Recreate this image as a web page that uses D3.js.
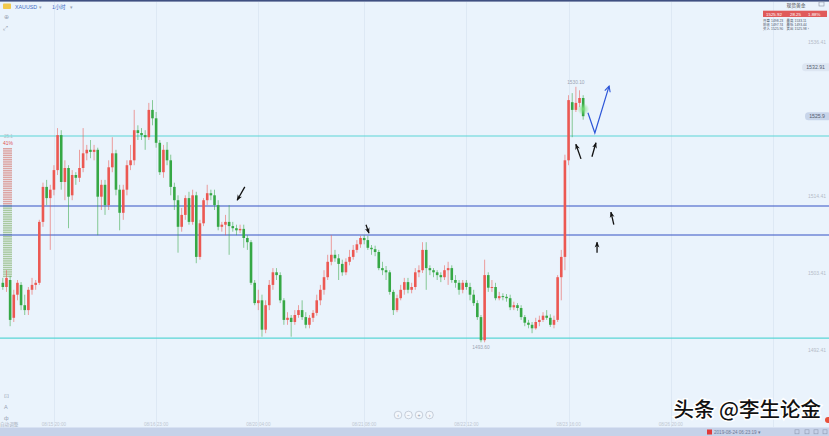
<!DOCTYPE html>
<html><head><meta charset="utf-8">
<script src="https://cdn.jsdelivr.net/npm/d3@7"></script>
<style>
html,body{margin:0;padding:0;background:#eaf3fc;overflow:hidden}
svg{display:block}
text{font-family:"Liberation Sans",Arial,sans-serif}
.cjk{font-family:"Noto Sans CJK SC",sans-serif}
</style></head><body>
<svg id="c" width="829" height="436"></svg>
<script>
// ---- data (XAUUSD, 1 hour) ----
const open  = [1502.1,1501.5,1502.5,1497.1,1500.4,1501.8,1498.9,1498.2,1501.1,1501.8,
1502.1,1510.8,1515.8,1514.2,1515.4,1518.2,1523.2,1516.5,1518.5,1514.6,
1517.5,1517.1,1518.5,1520.6,1521.1,1520.8,1521.1,1514.4,1516.1,1513.2,
1518.6,1520.6,1515.4,1512.1,1515.4,1518.9,1519.6,1523.9,1523.5,1523.2,
1522.9,1526.8,1525.6,1522.1,1517.9,1521.1,1519.6,1515.8,1513.9,1510.1,
1511.8,1514.2,1510.8,1514.6,1505.8,1510.6,1513.9,1514.9,1514.6,1513.2,
1510.1,1510.4,1510.8,1510.2,1509.9,1509.6,1509.8,1508.5,1507.9,1502.1,
1499.2,1499.6,1495.4,1498.9,1501.8,1503.6,1503.2,1499.6,1496.8,1497.1,
1496.5,1497.5,1498.2,1497.2,1496.1,1497.1,1497.8,1499.6,1501.1,1502.9,
1505.1,1506.1,1505.6,1504.8,1503.6,1505.1,1505.8,1506.8,1507.6,1508.5,
1508.2,1507.1,1506.9,1506.5,1504.2,1503.9,1503.6,1500.8,1498.2,1499.9,
1501.1,1502.2,1501.1,1501.5,1503.6,1503.9,1506.8,1504.2,1503.9,1503.6,
1503.2,1502.9,1503.9,1504.2,1502.5,1502.1,1501.1,1502.1,1501.5,1500.4,
1499.2,1497.2,1493.9,1503.2,1501.4,1501.5,1499.9,1500.2,1500.1,1499.9,
1498.6,1498.9,1498.5,1497.2,1496.4,1496.1,1495.6,1496.5,1496.8,1497.4,
1497.1,1496.1,1496.8,1502.9,1505.8,1519.6,1527.9,1526.8,1527.8,1528.5];
const high  = [1502.8,1503.9,1503.1,1501.1,1502.5,1502.2,1500.4,1501.5,1502.8,1502.5,
1511.1,1516.4,1516.8,1516.1,1518.9,1524.2,1523.9,1519.6,1518.9,1518.2,
1517.9,1521.1,1524.2,1521.8,1522.5,1521.8,1521.4,1516.8,1516.8,1519.6,
1522.9,1521.1,1516.1,1516.1,1519.6,1521.8,1526.8,1524.6,1524.2,1523.9,
1527.8,1528.2,1526.5,1522.5,1521.8,1522.2,1520.4,1516.4,1514.6,1512.8,
1514.6,1515.1,1515.4,1515.1,1511.1,1514.2,1516.1,1515.4,1515.4,1513.9,
1510.8,1511.8,1513.2,1510.8,1510.4,1510.4,1510.4,1508.9,1508.2,1502.5,
1501.1,1500.4,1499.6,1502.5,1504.2,1504.2,1503.6,1499.9,1497.9,1497.5,
1498.2,1498.9,1499.6,1497.9,1497.5,1498.2,1500.4,1501.8,1503.9,1506.1,
1508.9,1506.8,1506.2,1505.4,1505.6,1506.8,1507.5,1508.2,1508.8,1508.9,
1508.8,1507.5,1507.4,1506.8,1505.1,1504.5,1503.9,1501.1,1500.4,1501.8,
1502.8,1502.8,1502.1,1504.2,1504.6,1507.9,1507.9,1504.6,1504.2,1503.9,
1503.6,1504.6,1505.1,1504.6,1503.2,1502.5,1502.5,1502.5,1502.1,1501.1,
1499.6,1497.5,1505.4,1503.6,1502.5,1502.1,1500.8,1500.6,1500.5,1500.4,
1499.4,1499.2,1498.9,1497.5,1496.8,1496.5,1497.1,1497.4,1497.9,1498.2,
1497.6,1497.4,1503.2,1506.8,1520.4,1528.9,1529.2,1530.1,1529.6,1528.9];
const low   = [1501.1,1500.8,1495.9,1496.5,1499.6,1498.2,1497.5,1497.5,1500.4,1501.1,
1501.8,1510.1,1513.2,1506.8,1514.6,1517.5,1515.4,1513.9,1509.9,1513.9,
1516.1,1516.5,1517.9,1519.6,1519.9,1519.6,1508.9,1512.5,1511.8,1512.5,
1517.9,1514.6,1509.6,1511.1,1514.6,1518.2,1518.9,1522.5,1522.5,1521.1,
1522.5,1524.6,1521.4,1517.5,1517.1,1518.9,1514.6,1512.5,1506.4,1509.4,
1511.1,1510.4,1510.4,1504.9,1505.4,1510.2,1513.2,1513.9,1512.5,1509.6,
1509.4,1508.9,1506.1,1509.4,1508.9,1509.2,1507.1,1506.8,1501.8,1498.9,
1498.2,1494.4,1494.9,1498.2,1501.1,1502.5,1499.2,1496.1,1496.1,1494.4,
1496.1,1497.1,1496.8,1495.6,1495.6,1496.5,1497.4,1498.9,1500.4,1502.5,
1504.6,1505.1,1502.5,1503.1,1503.2,1504.6,1505.4,1506.4,1507.1,1507.6,
1506.8,1506.1,1505.9,1503.9,1503.2,1502.5,1500.4,1497.5,1497.9,1499.6,
1500.4,1500.6,1500.6,1501.1,1502.9,1503.5,1501.1,1503.2,1502.9,1502.5,
1502.2,1502.5,1501.8,1502.1,1501.4,1500.4,1500.6,1501.1,1499.6,1498.8,
1496.8,1493.6,1493.6,1500.8,1500.8,1499.6,1499.6,1499.6,1499.4,1498.2,
1498.2,1498.1,1496.8,1495.9,1495.6,1494.9,1495.4,1495.9,1496.5,1496.8,
1495.8,1495.6,1496.5,1499.6,1503.9,1518.9,1522.9,1526.5,1527.2,1525.4];
const close = [1501.5,1502.8,1496.8,1500.4,1502.1,1498.9,1498.2,1501.1,1501.8,1502.1,
1510.8,1515.8,1514.2,1515.4,1518.2,1523.2,1516.5,1518.5,1514.4,1517.5,
1517.1,1518.5,1520.6,1521.1,1520.8,1521.1,1514.4,1516.1,1513.2,1518.6,
1520.6,1515.4,1512.1,1515.4,1518.9,1519.6,1523.9,1523.5,1523.2,1522.9,
1526.8,1525.6,1522.1,1517.9,1521.1,1519.6,1515.8,1513.9,1510.1,1511.8,
1514.2,1510.8,1514.6,1505.8,1510.6,1513.9,1514.9,1514.6,1513.2,1510.1,
1510.4,1510.8,1510.2,1509.9,1509.6,1509.8,1508.5,1507.9,1502.1,1499.2,
1499.6,1495.4,1498.9,1501.8,1503.6,1503.2,1499.6,1496.8,1497.1,1496.5,
1497.5,1498.2,1497.2,1496.1,1497.1,1497.8,1499.6,1501.1,1502.9,1505.1,
1506.1,1505.6,1504.8,1503.6,1505.1,1505.8,1506.8,1507.6,1508.5,1508.2,
1507.1,1506.9,1506.5,1504.2,1503.9,1503.6,1500.8,1498.2,1499.9,1501.1,
1502.2,1501.1,1501.5,1503.6,1503.9,1506.8,1504.2,1503.9,1503.6,1503.2,
1502.9,1503.9,1504.2,1502.5,1502.1,1501.1,1502.1,1501.5,1500.4,1499.2,
1497.2,1493.9,1503.2,1501.4,1501.5,1499.9,1500.2,1500.1,1499.9,1498.6,
1498.9,1498.5,1497.2,1496.4,1496.1,1495.6,1496.5,1496.8,1497.4,1497.1,
1496.1,1496.8,1502.9,1505.8,1519.6,1528.2,1526.8,1527.8,1528.5,1525.9];

const timeTickIdx = [14,42,70,99,127,155,183];
const timeLabels = ["08/15 20:00","08/16 23:00","08/20 04:00","08/21 08:00","08/22 12:00","08/23 16:00","08/26 20:00"];
const priceTicks = [1536.41,1514.41,1503.41,1492.41];
const cyanLevels = [1523.07,1494.21];
const blueLevels = [1513.07,1508.93];
const lastPrice = 1525.9;
const markPrice = 1532.91;
// annotations: [fromIdx, fromPrice, toIdx, toPrice]
const blackArrows = [[66.3,1515.8,64.2,1513.9],[99.5,1510.4,100.3,1509.2],[158.4,1519.8,157.0,1521.9],
  [161.4,1520.1,162.5,1522.1],[167.4,1510.4,166.6,1512.2],[162.8,1506.4,162.8,1507.9]];
const bluePath = [[160.3,1526.4],[162.2,1523.5],[166.1,1530.2]];
const quoteRows = [["开盘","1498.23","最高","1533.11"],["前收","1497.74","最低","1493.44"],["买入","1525.90","卖出","1525.98 ›"]];

// ---- drawing ----
const W=829,H=436;
const svg=d3.select("#c");
const x=d3.scaleLinear().domain([-0.5,159.5]).range([1,585]);
const y=d3.scaleLinear().domain([1480,1542.5]).range([437.5,0]);
const UP="#ec5852", DN="#36a845";

svg.append("rect").attr("width",W).attr("height",H).attr("fill","#eaf3fc");
svg.append("rect").attr("width",W).attr("height",1.6).attr("fill","#3e4f80");

// faint vertical grid
svg.append("g").selectAll("line").data(timeTickIdx.concat([211])).join("line")
  .attr("x1",d=>Math.round(x(d))+0.5).attr("x2",d=>Math.round(x(d))+0.5)
  .attr("y1",2).attr("y2",427).attr("stroke","#dde8f4").attr("stroke-width",1);

// volume profile (left)
const vp=svg.append("g");
for(let yy=148; yy<277; yy+=2.2){
  vp.append("rect").attr("x",3).attr("y",yy).attr("width",9).attr("height",1.5)
    .attr("fill", yy<204 ? "#dca4a2" : "#a9c9a0");
}
svg.append("text").attr("x",4).attr("y",138).attr("font-size",4.5).attr("fill","#b7bcc6").text("25.1");
svg.append("text").attr("x",3).attr("y",144.5).attr("font-size",5).attr("fill","#e05555").text("41%");

// level lines
svg.append("g").selectAll("line").data(cyanLevels).join("line")
  .attr("x1",0).attr("x2",W).attr("y1",d=>y(d)).attr("y2",d=>y(d))
  .attr("stroke","#5ad6d6").attr("stroke-width",1.2);
svg.append("g").selectAll("line").data(blueLevels).join("line")
  .attr("x1",0).attr("x2",W).attr("y1",d=>y(d)).attr("y2",d=>y(d))
  .attr("stroke","#3552c4").attr("stroke-width",1.2);

// candles
const data=d3.range(open.length).map(i=>({i,o:open[i],h:high[i],l:low[i],c:close[i]}));
const cg=svg.append("g");
cg.selectAll("line").data(data).join("line")
  .attr("x1",d=>x(d.i)).attr("x2",d=>x(d.i))
  .attr("y1",d=>y(d.h)).attr("y2",d=>y(d.l))
  .attr("stroke",d=>d.c>=d.o?UP:DN).attr("stroke-width",0.8).attr("opacity",0.7);
cg.selectAll("rect").data(data).join("rect")
  .attr("x",d=>x(d.i)-1.3).attr("width",2.6)
  .attr("y",d=>y(Math.max(d.o,d.c)))
  .attr("height",d=>Math.max(1,Math.abs(y(d.o)-y(d.c))))
  .attr("fill",d=>d.c>=d.o?UP:DN);

// glow on last candle
const defs=svg.append("defs");
const rg=defs.append("radialGradient").attr("id","glow");
rg.append("stop").attr("offset","0%").attr("stop-color","#7be07b").attr("stop-opacity",0.9);
rg.append("stop").attr("offset","100%").attr("stop-color","#7be07b").attr("stop-opacity",0);
const last=data[data.length-1];
svg.append("circle").attr("cx",x(last.i)).attr("cy",y((last.o+last.c)/2)+2).attr("r",6).attr("fill","url(#glow)");

// high / low labels
const hi=data.reduce((a,b)=>b.h>a.h?b:a), lo=data.reduce((a,b)=>b.l<a.l?b:a);
svg.append("text").attr("x",x(hi.i)).attr("y",y(hi.h)-3).attr("text-anchor","middle")
  .attr("font-size",4.8).attr("fill","#9aa3b2").text(hi.h.toFixed(2));
svg.append("text").attr("x",x(lo.i)).attr("y",y(lo.l)+7).attr("text-anchor","middle")
  .attr("font-size",4.8).attr("fill","#9aa3b2").text(lo.l.toFixed(2));

// arrows
defs.append("marker").attr("id","ah").attr("viewBox","0 0 10 10").attr("refX",9).attr("refY",5)
  .attr("markerWidth",6).attr("markerHeight",6).attr("markerUnits","userSpaceOnUse").attr("orient","auto")
  .append("path").attr("d","M0,1 L10,5 L0,9 L3,5 Z").attr("fill","#111");
defs.append("marker").attr("id","bh").attr("viewBox","0 0 10 10").attr("refX",9).attr("refY",5)
  .attr("markerWidth",7).attr("markerHeight",7).attr("markerUnits","userSpaceOnUse").attr("orient","auto")
  .append("path").attr("d","M1,1 L9,5 L1,9").attr("fill","none").attr("stroke","#2d56d8").attr("stroke-width",1.6);
svg.append("g").selectAll("line").data(blackArrows).join("line")
  .attr("x1",d=>x(d[0])).attr("y1",d=>y(d[1])).attr("x2",d=>x(d[2])).attr("y2",d=>y(d[3]))
  .attr("stroke","#111").attr("stroke-width",1.3).attr("marker-end","url(#ah)");
svg.append("path").attr("d",d3.line().x(d=>x(d[0])).y(d=>y(d[1]))(bluePath))
  .attr("fill","none").attr("stroke","#2d56d8").attr("stroke-width",1.2).attr("marker-end","url(#bh)");

// right price labels
svg.append("g").selectAll("text").data(priceTicks).join("text")
  .attr("x",826).attr("y",d=>y(d)+1.8).attr("text-anchor","end").attr("font-size",5)
  .attr("fill","#b5bcc8").text(d=>d.toFixed(2));
function priceBox(p,fill,label,w){
  svg.append("rect").attr("x",828-w).attr("y",y(p)-4).attr("width",w+3).attr("height",8).attr("rx",3.5).attr("fill",fill);
  svg.append("text").attr("x",825).attr("y",y(p)+1.9).attr("text-anchor","end").attr("font-size",5.2)
    .attr("fill","#556070").text(label);
}
priceBox(markPrice,"#dde6f2",markPrice.toFixed(2),26);
priceBox(lastPrice,"#c8d5ea",String(lastPrice),23);

// top-right quote panel
const tp=svg.append("g");
tp.append("text").attr("class","cjk").attr("x",796).attr("y",7).attr("text-anchor","middle").attr("font-size",4.8).attr("fill","#444").text("现货黄金");
tp.append("rect").attr("x",819).attr("y",2).attr("width",5).attr("height",4).attr("fill","none").attr("stroke","#8a93a3").attr("stroke-width",0.6);
tp.append("rect").attr("x",763).attr("y",10.7).attr("width",64).attr("height",6.3).attr("fill","#e05a5a");
[["1525.92",766],["28.25",790],["1.88%",808]].forEach(t=>tp.append("text").attr("x",t[1]).attr("y",15.6).attr("font-size",4.4).attr("fill","#fff").text(t[0]));
quoteRows.forEach((r,k)=>{
  const yy=21.6+k*4.3;
  const fs=3.4;
  tp.append("text").attr("class","cjk").attr("x",763).attr("y",yy).attr("font-size",fs).attr("fill","#4a5366").text(r[0]);
  tp.append("text").attr("x",771).attr("y",yy).attr("font-size",fs).attr("fill","#4a5366").text(r[1]);
  tp.append("text").attr("class","cjk").attr("x",786.5).attr("y",yy).attr("font-size",fs).attr("fill","#4a5366").text(r[2]);
  tp.append("text").attr("x",794.5).attr("y",yy).attr("font-size",fs).attr("fill","#4a5366").text(r[3]);
});

// top-left toolbar
svg.append("rect").attr("x",3).attr("y",3.5).attr("width",8).attr("height",5.5).attr("rx",0.8).attr("fill","#f2c94c");
svg.append("text").attr("x",15).attr("y",8.6).attr("font-size",5.3).attr("fill","#3d6bc4").text("XAUUSD");
svg.append("text").attr("x",39).attr("y",8.6).attr("font-size",4.5).attr("fill","#9aa5b5").text("▾");
svg.append("text").attr("class","cjk").attr("x",52).attr("y",8.8).attr("font-size",5.3).attr("fill","#3d6bc4").text("1小时");
svg.append("text").attr("x",70).attr("y",8.6).attr("font-size",4.5).attr("fill","#9aa5b5").text("▾");
svg.append("text").attr("x",4).attr("y",19).attr("font-size",6).attr("fill","#9aa5b5").text("⊕");
svg.append("text").attr("x",3).attr("y",30).attr("font-size",6).attr("fill","#8a95a8").text("⤢");

// x labels
svg.append("g").selectAll("text").data(timeTickIdx).join("text")
  .attr("x",d=>x(d)).attr("y",426.3).attr("text-anchor","middle").attr("font-size",4.6)
  .attr("fill","#c0c7d2").text((d,k)=>timeLabels[k]);
svg.append("text").attr("class","cjk").attr("x",0).attr("y",425.5).attr("font-size",4.6).attr("fill","#a8b0bd").text("自动调整");
["⊡","A","ф"].forEach((t,k)=>svg.append("text").attr("x",4).attr("y",398+k*11).attr("font-size",5.5).attr("fill","#98a2b3").text(t));

// zoom buttons
const zb=["‹","−","+","›"];
svg.append("g").selectAll("circle").data(zb).join("circle")
  .attr("cx",(d,k)=>398+k*10.5).attr("cy",415).attr("r",3.8).attr("fill","#f3f7fc").attr("stroke","#a9b3c2").attr("stroke-width",0.6);
svg.append("g").selectAll("text").data(zb).join("text")
  .attr("x",(d,k)=>398+k*10.5).attr("y",416.8).attr("text-anchor","middle").attr("font-size",5).attr("fill","#8a94a5").text(d=>d);

// bottom bar
svg.append("rect").attr("x",0).attr("y",427.5).attr("width",W).attr("height",9).attr("fill","#c6d2e9");
svg.append("rect").attr("x",707).attr("y",429.5).attr("width",5).attr("height",5).attr("fill","#e03a3a");
svg.append("text").attr("x",714).attr("y",434).attr("font-size",4.6).attr("fill","#6a7895").text("2019-08-24 06:23:19 ▾");
[795,805,814,823].forEach(xx=>svg.append("rect").attr("x",xx).attr("y",429.8).attr("width",4).attr("height",4).attr("fill","none").attr("stroke","#8f9bb3").attr("stroke-width",0.6));

// watermark
svg.append("text").attr("class","cjk").attr("x",821).attr("y",417).attr("text-anchor","end")
  .attr("font-size",20.5).attr("font-weight",500).attr("fill","#111")
  .attr("stroke","#fff").attr("stroke-width",3).attr("paint-order","stroke").text("头条 @李生论金");
svg.append("circle").attr("cx",828).attr("cy",420).attr("r",3).attr("fill","#e8503a");
</script>
</body></html>
